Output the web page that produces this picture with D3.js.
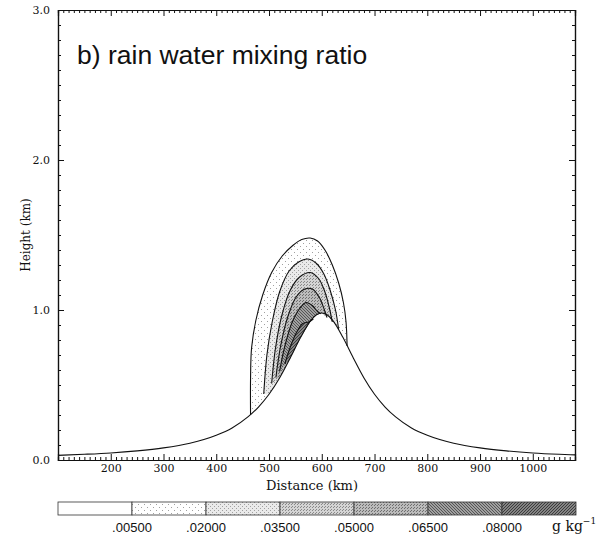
<!DOCTYPE html>
<html>
<head>
<meta charset="utf-8">
<script src="https://cdn.jsdelivr.net/npm/d3@7"></script>
<style>
  body { margin: 0; background: #fff; }
  text { fill: #111; }
</style>
</head>
<body>
<div id="chart"></div>
<script>
// data
var terrainX = [100,150,200,250,300,350,400,430,460,480,500,520,540,560,580,590,600,610,620,640,660,680,700,720,740,770,800,850,900,950,1000,1050,1080];
var terrainH = [.031,.038,.047,.061,.081,.112,.165,.214,.287,.353,.438,.547,.679,.818,.934,.968,.98,.968,.934,.818,.679,.547,.438,.353,.287,.214,.165,.112,.081,.061,.047,.038,.034];

var levels = [.005, .02, .035, .05, .065, .08];
var levelLabels = [".00500", ".02000", ".03500", ".05000", ".06500", ".08000"];

// one contour per level, [distance km, height km], left foot -> right foot
var c005 = [[465,.30],[465,.55],[467,.75],[475,.93],[488,1.1],[505,1.25],[525,1.36],[545,1.43],[562,1.47],[578,1.48],[592,1.46],[606,1.40],[620,1.30],[632,1.18],[641,1.05],[646,.92],[648,.76]];
var c020 = [[490,.44],[496,.70],[506,.92],[520,1.12],[538,1.26],[556,1.32],[574,1.34],[590,1.31],[604,1.24],[616,1.13],[626,1.0],[632,.87]];
var c035 = [[505,.51],[512,.74],[524,.96],[540,1.13],[558,1.22],[578,1.25],[594,1.21],[606,1.12],[614,1.02],[620,.92]];
var c050 = [[513,.55],[522,.76],[536,.96],[552,1.09],[568,1.14],[582,1.14],[596,1.08],[605,1.0],[610,.95]];
var c065 = [[520,.59],[530,.76],[544,.92],[558,1.01],[570,1.05],[582,1.03],[592,.99],[598,.975]];
var c080 = [[530,.64],[540,.75],[552,.85],[564,.91],[575,.92],[584,.94]];
var contourSets = [c005, c020, c035, c050, c065, c080];

var xTicks = [200,300,400,500,600,700,800,900,1000];
var yTicks = [0,1,2,3];

// settings
var W = 607, H = 542;
var mLeft = 58, mRight = 575, mTop = 10, mBottom = 460;

var svg = d3.select("#chart").append("svg")
  .attr("width", W).attr("height", H);

var x = d3.scaleLinear().domain([100, 1080]).range([mLeft, mRight]);
var y = d3.scaleLinear().domain([0, 3]).range([mBottom, mTop]);

// halftone-ish fills
var bands = [
  {bg: "#ffffff", dot: "#ffffff", size: 6, dots: []},
  {bg: "#ffffff", dot: "#a0a0a0", size: 6, dots: [[0,0],[3,3]]},
  {bg: "#eaeaea", dot: "#a0a0a0", size: 4, dots: [[0,0],[2,2]]},
  {bg: "#d4d4d4", dot: "#888888", size: 3, dots: [[0,0],[1,2]]},
  {bg: "#bbbbbb", dot: "#6e6e6e", size: 3, dots: [[0,0],[2,1]]},
  {bg: "#a0a0a0", dot: "#555555", size: 3, dots: [[0,0],[1,1],[2,2]]},
  {bg: "#848484", dot: "#3c3c3c", size: 3, dots: [[0,0],[1,2],[2,1]]}
];
var defs = svg.append("defs");
bands.forEach(function(b, i) {
  var p = defs.append("pattern").attr("id", "band" + i)
    .attr("patternUnits", "userSpaceOnUse")
    .attr("width", b.size).attr("height", b.size);
  p.append("rect").attr("width", b.size).attr("height", b.size).attr("fill", b.bg);
  b.dots.forEach(function(d) {
    p.append("rect").attr("x", d[0]).attr("y", d[1]).attr("width", 1).attr("height", 1).attr("fill", b.dot);
  });
});

var terrain = terrainX.map(function(d, i) { return [d, terrainH[i]]; });

var arch = d3.line().x(function(d) { return x(d[0]); }).y(function(d) { return y(d[1]); }).curve(d3.curveCatmullRom.alpha(0.5));

// filled regions: outer first, inner on top
contourSets.forEach(function(c, i) {
  var a = c[0][0], b = c[c.length-1][0];
  var back = terrain.filter(function(d) { return d[0] > a && d[0] < b; }).reverse();
  var backPath = back.map(function(d) { return "L" + x(d[0]) + "," + y(d[1]); }).join("");
  svg.append("path")
    .attr("d", arch(c) + backPath + "Z")
    .attr("fill", "url(#band" + (i + 1) + ")")
    .attr("stroke", "none");
});
contourSets.forEach(function(c) {
  svg.append("path")
    .attr("d", arch(c))
    .attr("fill", "none")
    .attr("stroke", "#111")
    .attr("stroke-width", 1.1);
});

// terrain
svg.append("path")
  .datum(terrain)
  .attr("d", d3.line().x(function(d) { return x(d[0]); }).y(function(d) { return y(d[1]); }).curve(d3.curveMonotoneX))
  .attr("fill", "none")
  .attr("stroke", "#111")
  .attr("stroke-width", 1.1);

// axes, ticks inward
var minorX = d3.range(110, 1080, 10).filter(function(d) { return d % 100 != 0; });
var minorY = d3.range(1, 30).filter(function(d) { return d % 10 != 0; }).map(function(d) { return d / 10; });
var tickFont = "'DejaVu Serif', serif";

svg.append("g").attr("transform", "translate(0," + mBottom + ")")
  .call(d3.axisBottom(x).tickValues(xTicks).tickSize(-6).tickPadding(4).tickFormat(d3.format("d")));
svg.append("g").attr("transform", "translate(0," + mBottom + ")")
  .call(d3.axisBottom(x).tickValues(minorX).tickSize(-3).tickFormat(""));
svg.append("g").attr("transform", "translate(0," + mTop + ")")
  .call(d3.axisTop(x).tickValues(xTicks).tickSize(-6).tickFormat(""));
svg.append("g").attr("transform", "translate(0," + mTop + ")")
  .call(d3.axisTop(x).tickValues(minorX).tickSize(-3).tickFormat(""));

svg.append("g").attr("transform", "translate(" + mLeft + ",0)")
  .call(d3.axisLeft(y).tickValues(yTicks).tickSize(-6).tickPadding(8).tickFormat(d3.format(".1f")));
svg.append("g").attr("transform", "translate(" + mLeft + ",0)")
  .call(d3.axisLeft(y).tickValues(minorY).tickSize(-3).tickFormat(""));
svg.append("g").attr("transform", "translate(" + mRight + ",0)")
  .call(d3.axisRight(y).tickValues(yTicks).tickSize(-6).tickFormat(""));
svg.append("g").attr("transform", "translate(" + mRight + ",0)")
  .call(d3.axisRight(y).tickValues(minorY).tickSize(-3).tickFormat(""));

svg.selectAll(".domain").attr("stroke", "#111").attr("stroke-width", 1.2);
svg.selectAll(".tick line").attr("stroke", "#111");
svg.selectAll(".tick text").attr("font-family", tickFont).attr("font-size", 11).attr("fill", "#111");

svg.append("text")
  .attr("x", 312).attr("y", 490)
  .attr("text-anchor", "middle")
  .attr("font-family", tickFont).attr("font-size", 13)
  .text("Distance (km)");
svg.append("text")
  .attr("transform", "translate(30," + ((mTop + mBottom) / 2) + ") rotate(-90)")
  .attr("text-anchor", "middle")
  .attr("font-family", tickFont).attr("font-size", 12)
  .text("Height (km)");

svg.append("text")
  .attr("x", 77).attr("y", 64)
  .attr("font-family", "'Liberation Sans', Arial, sans-serif").attr("font-size", 26.5)
  .text("b) rain water mixing ratio");

// colour bar
var cb = d3.scaleLinear().domain([0, 7]).range([58, 576]);
var cbTop = 502, cbH = 13;
var cbg = svg.append("g");
d3.range(7).forEach(function(i) {
  cbg.append("rect")
    .attr("x", cb(i)).attr("y", cbTop)
    .attr("width", cb(i + 1) - cb(i)).attr("height", cbH)
    .attr("fill", "url(#band" + i + ")")
    .attr("stroke", "#333").attr("stroke-width", 0.8);
});
cbg.selectAll("text.lv").data(levelLabels).enter().append("text")
  .attr("class", "lv")
  .attr("x", function(d, i) { return cb(i + 1); })
  .attr("y", 532)
  .attr("text-anchor", "middle")
  .attr("font-family", "'Liberation Sans', Arial, sans-serif").attr("font-size", 13)
  .text(function(d) { return d; });
var unit = cbg.append("text")
  .attr("x", 552).attr("y", 531)
  .attr("font-family", tickFont).attr("font-size", 14);
unit.append("tspan").text("g kg");
unit.append("tspan").attr("dy", -7).attr("font-size", 9).text("−1");
</script>
</body>
</html>
